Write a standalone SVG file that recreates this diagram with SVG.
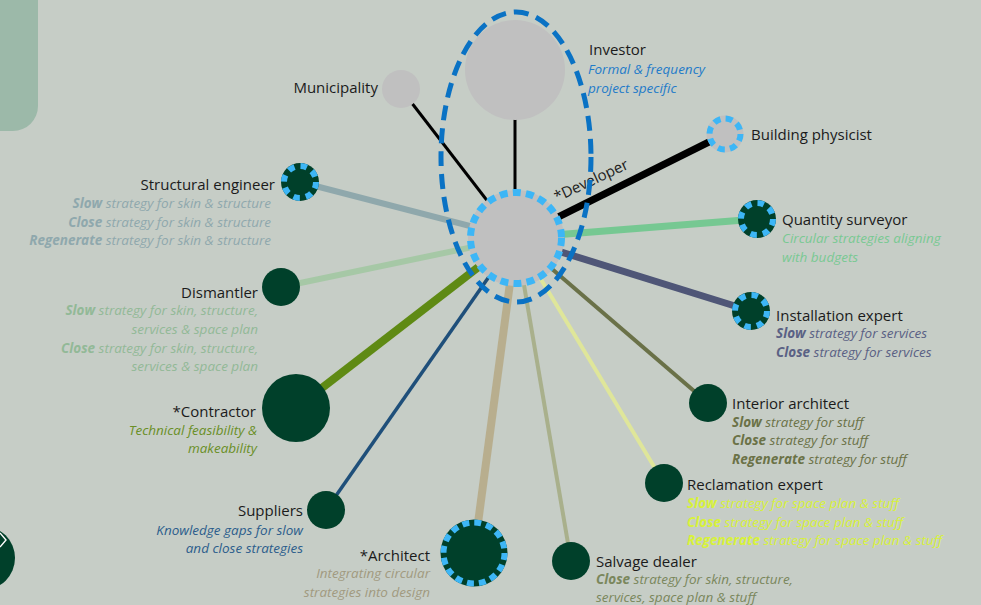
<svg xmlns="http://www.w3.org/2000/svg" width="981" height="605" viewBox="0 0 981 605">
  <style>
    .lbl { font-family: "Open Sans", "Noto Sans", "Liberation Sans", sans-serif; font-size: 15px; fill: #1b1b1b; }
    .sub { font-family: "Open Sans", "Noto Sans", "Liberation Sans", sans-serif; font-size: 13.5px; font-style: italic; }
    .sub tspan.b { font-weight: bold; }
    .end { text-anchor: end; }
    .grey { fill: #c0c0c0; }
    .dark { fill: #00402a; }
    .ring { fill: none; stroke: #3db6f6; }
    .con { stroke-linecap: butt; fill: none; }
  </style>

  <!-- background -->
  <rect x="0" y="0" width="981" height="605" fill="#c6cdc6"/>
  <!-- side tab top-left -->
  <path d="M0,0 H38 V106 A25,25 0 0 1 13,131 H0 Z" fill="#9cb9a9"/>
  <!-- navigation button bottom-left -->
  <circle cx="-17" cy="558" r="32" fill="#00402a"/>
  <polyline points="0,533 6,540 0,547" fill="none" stroke="#ffffff" stroke-width="1.4"/>

  <!-- connectors -->
  <g id="connectors" class="con">
    <line x1="516" y1="238" x2="401" y2="89" stroke="#000000" stroke-width="3"/>
    <line x1="515" y1="238" x2="515" y2="110" stroke="#000000" stroke-width="3"/>
    <line x1="516" y1="238" x2="725" y2="134" stroke="#000000" stroke-width="7"/>
    <line x1="516" y1="238" x2="300" y2="182" stroke="#8fa8ac" stroke-width="6"/>
    <line x1="516" y1="238" x2="281" y2="287" stroke="#a6c8a6" stroke-width="6"/>
    <line x1="516" y1="238" x2="296" y2="408" stroke="#5f8a14" stroke-width="8"/>
    <line x1="516" y1="238" x2="326" y2="510" stroke="#1f4f7a" stroke-width="3.5"/>
    <line x1="516" y1="238" x2="474" y2="553" stroke="#b8ae8e" stroke-width="8"/>
    <line x1="516" y1="238" x2="571" y2="561" stroke="#a9b08c" stroke-width="4"/>
    <line x1="516" y1="238" x2="664" y2="483" stroke="#dfe69a" stroke-width="4"/>
    <line x1="516" y1="238" x2="708" y2="403" stroke="#6a7148" stroke-width="4"/>
    <line x1="516" y1="238" x2="751" y2="311" stroke="#4f5677" stroke-width="7"/>
    <line x1="516" y1="238" x2="757" y2="219" stroke="#76c892" stroke-width="7"/>
  </g>

  <!-- developer (centre) -->
  <g id="developer">
    <circle cx="516" cy="238" r="48" class="grey"/>
    <circle cx="516" cy="238" r="45.5" class="ring" stroke-width="7" stroke-dasharray="8 5.18"/>
    <text class="lbl" transform="translate(557,202) rotate(-25)">*Developer</text>
  </g>

  <!-- investor -->
  <g id="investor">
    <circle cx="515" cy="70" r="50" class="grey"/>
    <text class="lbl" x="589" y="55">Investor</text>
    <text class="sub" x="588" y="74" fill="#1f7bc9">Formal &amp; frequency</text>
    <text class="sub" x="588" y="93" fill="#1f7bc9">project specific</text>
  </g>
  <!-- investor/developer grouping outline -->
  <ellipse cx="516" cy="157" rx="75" ry="145" fill="none" stroke="#0a72c4" stroke-width="5" stroke-dasharray="15 8"/>

  <g id="municipality">
    <circle cx="401" cy="89" r="19" class="grey"/>
    <text class="lbl end" x="378" y="93">Municipality</text>
  </g>

  <g id="building-physicist">
    <circle cx="725" cy="134" r="18.5" class="grey"/>
    <circle cx="725" cy="134" r="15.5" class="ring" stroke-width="6" stroke-dasharray="7 5.2"/>
    <text class="lbl" x="751" y="140">Building physicist</text>
  </g>

  <g id="structural-engineer">
    <circle cx="300" cy="182" r="19" class="dark"/>
    <circle cx="300" cy="182" r="16" class="ring" stroke-width="6" stroke-dasharray="6.5 6.07"/>
    <text class="lbl end" x="275" y="190">Structural engineer</text>
    <text class="sub end" x="271" y="208" fill="#8fa8ad"><tspan class="b">Slow</tspan> strategy for skin &amp; structure</text>
    <text class="sub end" x="271" y="227" fill="#8fa8ad"><tspan class="b">Close</tspan> strategy for skin &amp; structure</text>
    <text class="sub end" x="271" y="245" fill="#8fa8ad"><tspan class="b">Regenerate</tspan> strategy for skin &amp; structure</text>
  </g>

  <g id="dismantler">
    <circle cx="281" cy="287" r="19" class="dark"/>
    <text class="lbl end" x="258" y="298">Dismantler</text>
    <text class="sub end" x="258" y="315" fill="#92b997"><tspan class="b">Slow</tspan> strategy for skin, structure,</text>
    <text class="sub end" x="258" y="334" fill="#92b997">services &amp; space plan</text>
    <text class="sub end" x="258" y="353" fill="#92b997"><tspan class="b">Close</tspan> strategy for skin, structure,</text>
    <text class="sub end" x="258" y="371" fill="#92b997">services &amp; space plan</text>
  </g>

  <g id="contractor">
    <circle cx="296" cy="408" r="34" class="dark"/>
    <text class="lbl end" x="256" y="417">*Contractor</text>
    <text class="sub end" x="257" y="435" fill="#6a8f27">Technical feasibility &amp;</text>
    <text class="sub end" x="257" y="453" fill="#6a8f27">makeability</text>
  </g>

  <g id="suppliers">
    <circle cx="326" cy="510" r="19" class="dark"/>
    <text class="lbl end" x="303" y="516">Suppliers</text>
    <text class="sub end" x="303" y="535" fill="#2c5d8c">Knowledge gaps for slow</text>
    <text class="sub end" x="303" y="553" fill="#2c5d8c">and close strategies</text>
  </g>

  <g id="architect">
    <circle cx="474" cy="553" r="33.5" class="dark"/>
    <circle cx="474" cy="553" r="30.5" class="ring" stroke-width="6" stroke-dasharray="7 4.98"/>
    <text class="lbl end" x="430" y="561">*Architect</text>
    <text class="sub end" x="430" y="578" fill="#a19a80">Integrating circular</text>
    <text class="sub end" x="430" y="597" fill="#a19a80">strategies into design</text>
  </g>

  <g id="salvage-dealer">
    <circle cx="571" cy="561" r="19" class="dark"/>
    <text class="lbl" x="596" y="567">Salvage dealer</text>
    <text class="sub" x="596" y="584" fill="#7a875c"><tspan class="b">Close</tspan> strategy for skin, structure,</text>
    <text class="sub" x="596" y="602" fill="#7a875c">services, space plan &amp; stuff</text>
  </g>

  <g id="reclamation-expert">
    <circle cx="664" cy="483" r="19" class="dark"/>
    <text class="lbl" x="687" y="490">Reclamation expert</text>
    <text class="sub" x="687" y="508" fill="#d8f23a"><tspan class="b">Slow</tspan> strategy for space plan &amp; stuff</text>
    <text class="sub" x="687" y="527" fill="#d8f23a"><tspan class="b">Close</tspan> strategy for space plan &amp; stuff</text>
    <text class="sub" x="687" y="545" fill="#d8f23a"><tspan class="b">Regenerate</tspan> strategy for space plan &amp; stuff</text>
  </g>

  <g id="interior-architect">
    <circle cx="708" cy="403" r="19" class="dark"/>
    <text class="lbl" x="732" y="409">Interior architect</text>
    <text class="sub" x="732" y="427" fill="#6b7247"><tspan class="b">Slow</tspan> strategy for stuff</text>
    <text class="sub" x="732" y="445" fill="#6b7247"><tspan class="b">Close</tspan> strategy for stuff</text>
    <text class="sub" x="732" y="464" fill="#6b7247"><tspan class="b">Regenerate</tspan> strategy for stuff</text>
  </g>

  <g id="installation-expert">
    <circle cx="751" cy="311" r="19" class="dark"/>
    <circle cx="751" cy="311" r="16" class="ring" stroke-width="6" stroke-dasharray="6.5 6.07"/>
    <text class="lbl" x="776" y="321">Installation expert</text>
    <text class="sub" x="776" y="338" fill="#5a6184"><tspan class="b">Slow</tspan> strategy for services</text>
    <text class="sub" x="776" y="357" fill="#5a6184"><tspan class="b">Close</tspan> strategy for services</text>
  </g>

  <g id="quantity-surveyor">
    <circle cx="757" cy="219" r="19" class="dark"/>
    <circle cx="757" cy="219" r="16" class="ring" stroke-width="6" stroke-dasharray="6.5 6.07"/>
    <text class="lbl" x="782" y="225">Quantity surveyor</text>
    <text class="sub" x="782" y="243" fill="#79c993">Circular strategies aligning</text>
    <text class="sub" x="782" y="262" fill="#79c993">with budgets</text>
  </g>
</svg>
